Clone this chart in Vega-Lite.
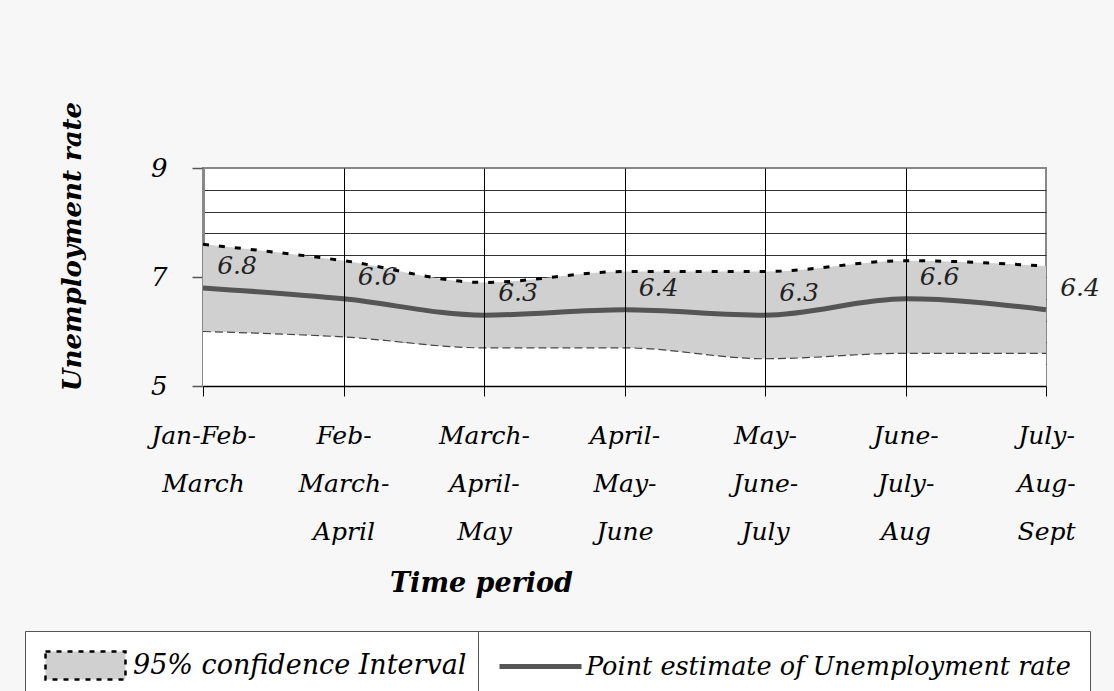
{
  "$schema": "https://vega.github.io/schema/vega-lite/v6.json",
  "autosize": {"type": "none"},
  "padding": {"left": 203, "top": 168, "right": 68, "bottom": 305},
  "width": 843,
  "height": 218,
  "background": "#f7f7f7",
  "config": {
    "view": {"fill": "white", "stroke": "#888888", "strokeWidth": 2},
    "font": "DejaVu Serif"
  },
  "data": {
    "values": [
      {"period": "Jan-Feb-March", "rate": 6.8, "lower": 6.0, "upper": 7.6},
      {"period": "Feb-March-April", "rate": 6.6, "lower": 5.9, "upper": 7.3},
      {"period": "March-April-May", "rate": 6.3, "lower": 5.7, "upper": 6.9},
      {"period": "April-May-June", "rate": 6.4, "lower": 5.7, "upper": 7.1},
      {"period": "May-June-July", "rate": 6.3, "lower": 5.5, "upper": 7.1},
      {"period": "June-July-Aug", "rate": 6.6, "lower": 5.6, "upper": 7.3},
      {"period": "July-Aug-Sept", "rate": 6.4, "lower": 5.6, "upper": 7.2}
    ]
  },
  "encoding": {
    "x": {
      "field": "period",
      "type": "nominal",
      "sort": null,
      "scale": {"type": "point", "padding": 0},
      "axis": {
        "zindex": 1,
        "title": "Time period",
        "titleFont": "DejaVu Serif",
        "titleFontStyle": "italic",
        "titleFontWeight": "bold",
        "titleFontSize": 27,
        "titleColor": "black",
        "titleX": 278,
        "titleY": 197,
        "titleAlign": "center",
        "titleBaseline": "middle",
        "labelAngle": 0,
        "labelFont": "DejaVu Serif",
        "labelFontStyle": "italic",
        "labelFontSize": 25,
        "labelColor": "black",
        "labelLineHeight": 48,
        "labelBaseline": "top",
        "labelPadding": 27,
        "labelLimit": 0,
        "labelOverlap": false,
        "labelExpr": "({'Jan-Feb-March': ['Jan-Feb-', 'March'], 'Feb-March-April': ['Feb-', 'March-', 'April'], 'March-April-May': ['March-', 'April-', 'May'], 'April-May-June': ['April-', 'May-', 'June'], 'May-June-July': ['May-', 'June-', 'July'], 'June-July-Aug': ['June-', 'July-', 'Aug'], 'July-Aug-Sept': ['July-', 'Aug-', 'Sept']})[datum.value]",
        "domainColor": "black",
        "domainWidth": 1.5,
        "tickColor": "black",
        "tickSize": 10,
        "tickWidth": 1,
        "grid": true,
        "gridColor": "black",
        "gridWidth": 1,
        "gridOpacity": {"condition": {"test": "datum.value == 'Jan-Feb-March' || datum.value == 'July-Aug-Sept'", "value": 0}, "value": 1}
      }
    }
  },
  "layer": [
    {
      "mark": {"type": "area", "interpolate": "monotone", "fill": "white"},
      "encoding": {
        "y": {
          "field": "lower",
          "type": "quantitative",
          "scale": {"domain": [5, 9], "zero": false, "nice": false},
          "axis": {
            "zindex": 0,
            "values": [5, 5.4, 5.8, 6.2, 6.6, 7, 7.4, 7.8, 8.2, 8.6, 9],
            "tickCount": 50,
            "labelOverlap": false,
            "labelExpr": "(datum.value == 5 || datum.value == 7 || datum.value == 9) ? format(datum.value, 'd') : ''",
            "labelFont": "DejaVu Serif",
            "labelFontStyle": "italic",
            "labelFontSize": 26,
            "labelColor": "black",
            "labelPadding": 25,
            "labelBaseline": "middle",
            "tickSize": 11,
            "tickColor": "#555555",
            "tickWidth": 1.5,
            "tickOpacity": {"condition": {"test": "datum.value == 5 || datum.value == 7 || datum.value == 9", "value": 1}, "value": 0},
            "domainColor": "#888888",
            "domainWidth": 3,
            "grid": true,
            "gridColor": "#333333",
            "gridWidth": 1,
            "gridOpacity": {"condition": {"test": "datum.value == 5 || datum.value == 9", "value": 0}, "value": 1},
            "title": "Unemployment rate",
            "titleFont": "DejaVu Serif",
            "titleFontStyle": "italic",
            "titleFontWeight": "bold",
            "titleFontSize": 26,
            "titleColor": "black",
            "titleAngle": 270,
            "titleX": -131,
            "titleY": 78,
            "titleAlign": "center",
            "titleBaseline": "middle"
          }
        },
        "y2": {"datum": 5}
      }
    },
    {
      "mark": {"type": "area", "interpolate": "monotone", "opacity": 1},
      "encoding": {
        "y": {"field": "upper", "type": "quantitative"},
        "y2": {"field": "lower"},
        "fill": {
          "datum": "95% confidence Interval",
          "type": "nominal",
          "scale": {"domain": ["95% confidence Interval"], "range": ["#d0d0d0"]},
          "legend": {
            "title": null,
            "orient": "none",
            "legendX": -178,
            "legendY": 463,
            "fillColor": "white",
            "strokeColor": "#555555",
            "padding": 19,
            "symbolSize": 784,
            "symbolType": "M-1,-1H4.714V1H-1Z",
            "symbolFillColor": "#d0d0d0",
            "symbolStrokeColor": "black",
            "symbolDash": [5, 6],
            "symbolStrokeWidth": 2.5,
            "symbolOpacity": 1,
            "labelFont": "DejaVu Serif",
            "labelFontStyle": "italic",
            "labelFontSize": 27,
            "labelColor": "black",
            "labelOffset": 58,
            "labelLimit": 0
          }
        }
      }
    },
    {
      "mark": {"type": "line", "interpolate": "monotone", "stroke": "black", "strokeWidth": 3, "strokeDash": [6, 10]},
      "encoding": {"y": {"field": "upper", "type": "quantitative"}}
    },
    {
      "mark": {"type": "line", "interpolate": "monotone", "stroke": "#444444", "strokeWidth": 1.2, "strokeDash": [8, 4]},
      "encoding": {"y": {"field": "lower", "type": "quantitative"}}
    },
    {
      "mark": {"type": "line", "interpolate": "monotone", "strokeWidth": 5},
      "encoding": {
        "y": {"field": "rate", "type": "quantitative"},
        "stroke": {
          "datum": "Point estimate of Unemployment rate",
          "type": "nominal",
          "scale": {"domain": ["Point estimate of Unemployment rate"], "range": ["#555555"]},
          "legend": {
            "title": null,
            "orient": "none",
            "legendX": 275,
            "legendY": 463,
            "fillColor": "white",
            "strokeColor": "#555555",
            "padding": 19,
            "symbolSize": 784,
            "symbolType": "M-1,0H4.857",
            "symbolStrokeWidth": 5,
            "symbolOpacity": 1,
            "labelFont": "DejaVu Serif",
            "labelFontStyle": "italic",
            "labelFontSize": 25.5,
            "labelColor": "black",
            "labelOffset": 56,
            "labelLimit": 0
          }
        }
      }
    },
    {
      "mark": {"type": "text", "font": "DejaVu Serif", "fontStyle": "italic", "fontSize": 25, "color": "#222222", "dx": 34, "dy": -22, "align": "center", "baseline": "middle"},
      "encoding": {
        "y": {"field": "rate", "type": "quantitative"},
        "text": {"field": "rate", "type": "quantitative", "format": ".1f"}
      }
    }
  ]
}
